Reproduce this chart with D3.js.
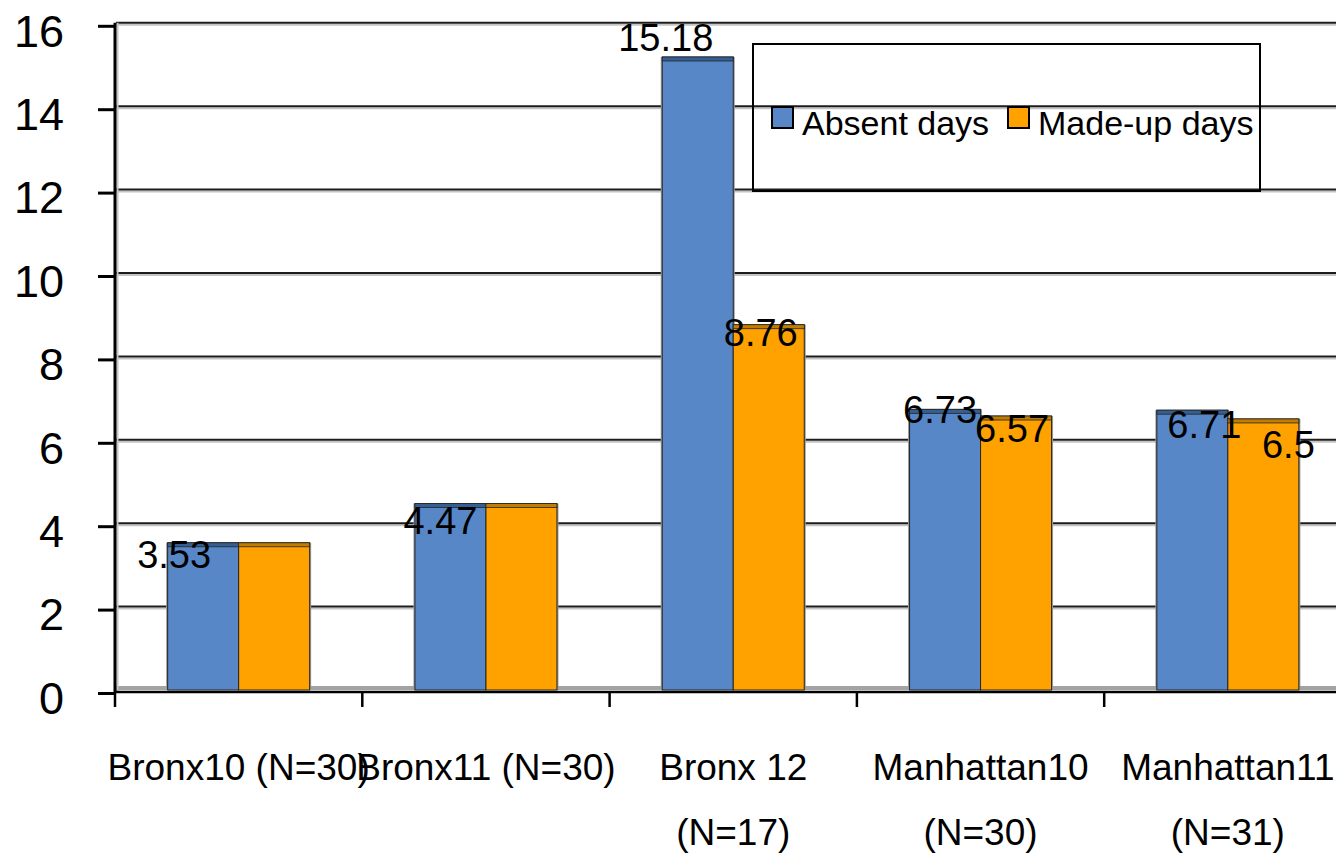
<!DOCTYPE html>
<html lang="en">
<head>
  <meta charset="UTF-8" />
  <title>Absent vs made-up days</title>
  <style>
    body {
      margin: 0;
      background: #fff;
      font-family: "Liberation Sans", Arial, Helvetica, sans-serif;
    }
    svg text { fill: #000; }
  </style>
</head>
<body>
  <svg id="chart" width="1336" height="855"></svg>

  <script src="https://d3js.org/d3.v7.min.js"></script>
  <script>
    // data
    const categories = ["Bronx10 (N=30)", "Bronx11 (N=30)", "Bronx 12|(N=17)", "Manhattan10|(N=30)", "Manhattan11|(N=31)"];
    const series = ["Absent days", "Made-up days"];
    const absentDays = [3.53, 4.47, 15.18, 6.73, 6.71];
    const madeUpDays = [3.53, 4.47, 8.76, 6.57, 6.5];
    const absentLabels = ["3.53", "4.47", "15.18", "6.73", "6.71"];
    const madeUpLabels = [null, null, "8.76", "6.57", "6.5"];
    const yTicks = [0, 2, 4, 6, 8, 10, 12, 14, 16];

    // label nudges (dx from bar centre, dy from bar top) - the source places them loosely
    const absentNudge = [[-29, 25], [-10, 30], [-32, -6], [-5, 14], [12, 28]];
    const madeUpNudge = [null, null, [-8, 21], [-4, 26], [25, 39]];

    const colors = { "Absent days": "#5787c6", "Made-up days": "#ffa200" };
    const tops = { "Absent days": "#355f92", "Made-up days": "#c27c00" };

    const svg = d3.select("#chart");
    const W = 1336;
    const left = 115, base = 690;
    const bandW = 247.3;

    const x = d3.scaleBand()
      .domain(categories)
      .range([left, left + bandW * categories.length])
      .padding(0);

    const xs = d3.scaleBand()
      .domain(series)
      .range([bandW / 2 - 71, bandW / 2 + 71])
      .padding(0);

    const y = d3.scaleLinear().domain([0, 16]).range([base, 22.8]);

    // back wall gridlines (with the soft shadow under each)
    const grid = svg.append("g");
    grid.selectAll(".gs")
      .data(yTicks.filter(d => d > 0))
      .enter().append("line")
      .attr("x1", left + 1).attr("x2", W)
      .attr("y1", d => y(d) + 2).attr("y2", d => y(d) + 2)
      .style("stroke", "#c4c4c4").style("stroke-width", 2);
    grid.selectAll(".gl")
      .data(yTicks.filter(d => d > 0))
      .enter().append("line")
      .attr("x1", left + 1).attr("x2", W)
      .attr("y1", d => y(d)).attr("y2", d => y(d))
      .style("stroke", "#1c1c1c").style("stroke-width", 2);

    // floor
    svg.append("rect")
      .attr("x", left).attr("y", y(0) - 4)
      .attr("width", W - left).attr("height", 4)
      .style("fill", "#a3a3a3");

    // bars
    const rows = categories.map((c, i) => ({
      cat: c,
      vals: [
        { s: series[0], v: absentDays[i], label: absentLabels[i], nudge: absentNudge[i] },
        { s: series[1], v: madeUpDays[i], label: madeUpLabels[i], nudge: madeUpNudge[i] }
      ]
    }));

    const groups = svg.selectAll(".grp")
      .data(rows)
      .enter().append("g")
      .attr("class", "grp")
      .attr("transform", d => `translate(${x(d.cat)},0)`);

    groups.selectAll(".shadow")
      .data(d => d.vals)
      .enter().append("rect")
      .attr("x", d => xs(d.s) - 1.5)
      .attr("y", d => y(d.v))
      .attr("width", xs.bandwidth() + 3)
      .attr("height", d => y(0) - y(d.v))
      .style("fill", "#9a9a9a");

    groups.selectAll(".bar")
      .data(d => d.vals)
      .enter().append("rect")
      .attr("x", d => xs(d.s))
      .attr("y", d => y(d.v))
      .attr("width", xs.bandwidth())
      .attr("height", d => y(0) - y(d.v))
      .style("fill", d => colors[d.s])
      .style("stroke", "#262626")
      .style("stroke-width", 1);

    groups.selectAll(".top")
      .data(d => d.vals)
      .enter().append("rect")
      .attr("x", d => xs(d.s))
      .attr("y", d => y(d.v))
      .attr("width", xs.bandwidth())
      .attr("height", 4)
      .style("fill", d => tops[d.s])
      .style("stroke", "#262626")
      .style("stroke-width", 0.8);

    groups.selectAll(".val")
      .data(d => d.vals.filter(v => v.label))
      .enter().append("text")
      .attr("x", d => xs(d.s) + xs.bandwidth() / 2 + d.nudge[0])
      .attr("y", d => y(d.v) + d.nudge[1])
      .attr("text-anchor", "middle")
      .style("font-size", "38px")
      .text(d => d.label);

    // y axis (ticks sit a little below the wall gridlines)
    const yAxis = d3.axisLeft(y)
      .tickValues(yTicks)
      .tickSize(17)
      .tickPadding(34)
      .tickFormat(d3.format("d"));

    const ya = svg.append("g")
      .attr("transform", `translate(${left},3)`)
      .call(yAxis);
    ya.select(".domain").remove();
    ya.selectAll(".tick line").style("stroke", "#000").style("stroke-width", 3);
    ya.selectAll(".tick text")
      .attr("dy", "0.45em")
      .style("font-size", "45px")
      .style("font-family", "'Liberation Sans', Arial, sans-serif")
      .style("fill", "#000");

    svg.append("line")
      .attr("x1", left + 2.5).attr("x2", left + 2.5)
      .attr("y1", y(16)).attr("y2", y(0) + 2)
      .style("stroke", "#c4c4c4").style("stroke-width", 2);
    svg.append("line")
      .attr("x1", left).attr("x2", left)
      .attr("y1", y(16)).attr("y2", y(0) + 3)
      .style("stroke", "#000").style("stroke-width", 3);

    // x axis
    const xa = svg.append("g");
    xa.append("line")
      .attr("x1", left).attr("x2", W)
      .attr("y1", y(0) + 2).attr("y2", y(0) + 2)
      .style("stroke", "#000").style("stroke-width", 2.5);

    const bounds = categories.map(c => x(c)).concat([x.range()[1]]);
    xa.selectAll(".xt")
      .data(bounds)
      .enter().append("line")
      .attr("x1", d => d).attr("x2", d => d)
      .attr("y1", y(0) + 2).attr("y2", y(0) + 17)
      .style("stroke", "#000").style("stroke-width", 2.5);

    const labels = xa.selectAll(".xl")
      .data(categories)
      .enter().append("text")
      .attr("text-anchor", "middle")
      .style("font-size", "37px");
    labels.selectAll("tspan")
      .data(d => d.split("|").map((t, i) => ({ t, i, c: d })))
      .enter().append("tspan")
      .attr("x", d => x(d.c) + bandW / 2)
      .attr("y", d => 780 + d.i * 65)
      .text(d => d.t);

    // legend (no fill: the gridlines run through it)
    const lg = svg.append("g");
    lg.append("rect")
      .attr("x", 753).attr("y", 44)
      .attr("width", 507).attr("height", 147)
      .style("fill", "none").style("stroke", "#000").style("stroke-width", 2);

    const legendX = [772, 1008];
    const items = lg.selectAll(".li")
      .data(series)
      .enter().append("g")
      .attr("transform", (d, i) => `translate(${legendX[i]},107)`);
    items.append("rect")
      .attr("width", 21).attr("height", 21)
      .style("fill", d => colors[d])
      .style("stroke", "#000").style("stroke-width", 2);
    items.append("text")
      .attr("x", 30).attr("y", 28)
      .style("font-size", "34px")
      .text(d => d);
  </script>
</body>
</html>
